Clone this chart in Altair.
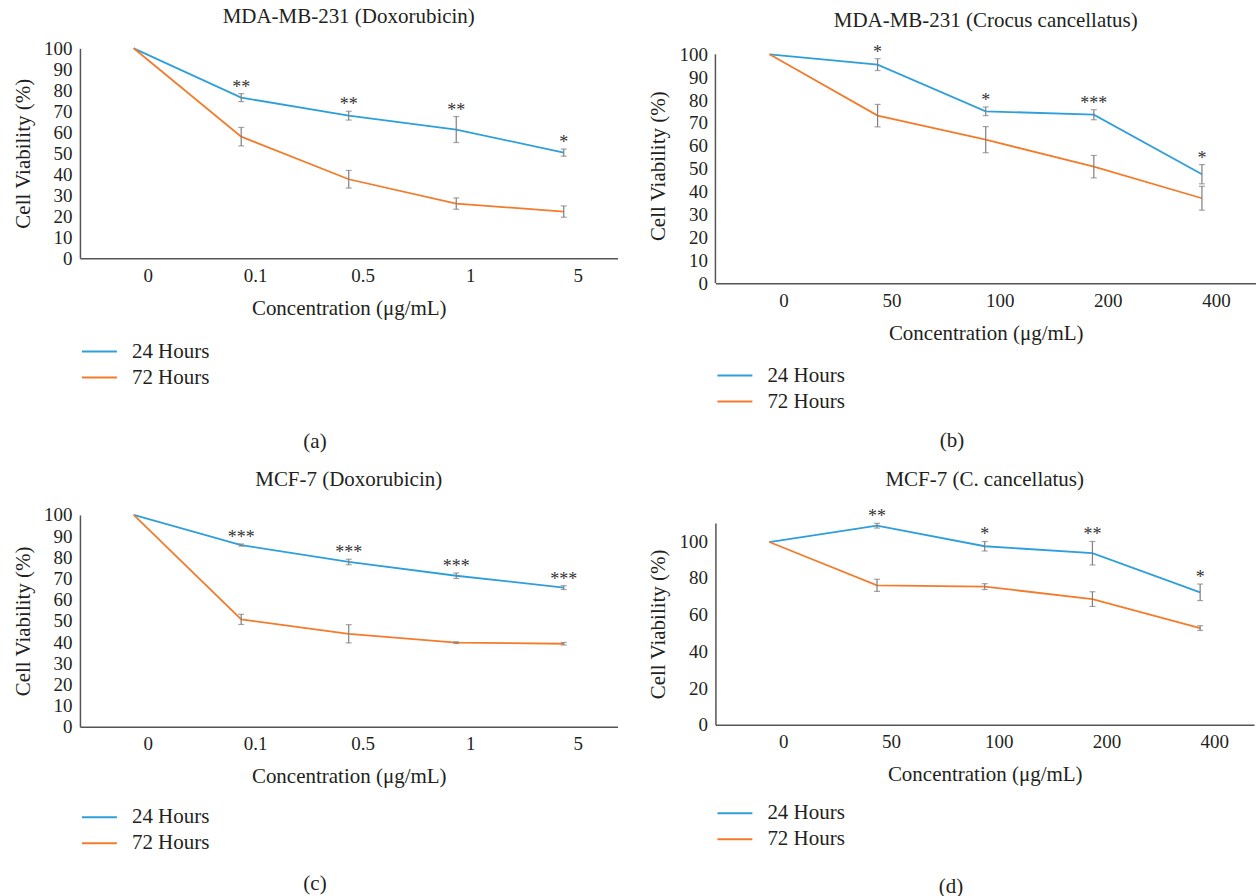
import altair as alt
import pandas as pd

# ---------------- data ----------------
cats_dox = ["0", "0.1", "0.5", "1", "5"]
cats_cc = ["0", "50", "100", "200", "400"]
series = ["24 Hours", "72 Hours"]

a_24 = [100, 76.5, 67.9, 61.3, 50.3]
a_24_err = [None, 1.9, 2.1, 6.2, 1.7]
a_72 = [100, 57.9, 37.6, 26.0, 22.2]
a_72_err = [None, 4.4, 4.2, 2.7, 2.7]
a_sig = ["", "**", "**", "**", "*"]

b_24 = [100, 95.5, 75.1, 73.6, 47.6]
b_24_err = [None, 2.6, 1.9, 2.2, 4.2]
b_72 = [100, 73.2, 62.7, 50.9, 37.1]
b_72_err = [None, 4.9, 5.7, 4.9, 5.2]
b_sig = ["", "*", "*", "***", "*"]

c_24 = [100, 85.8, 77.8, 71.3, 65.7]
c_24_err = [None, 0.5, 1.3, 1.3, 0.9]
c_72 = [100, 50.7, 43.9, 39.7, 39.2]
c_72_err = [None, 2.4, 4.3, 0.4, 0.6]
c_sig = ["", "***", "***", "***", "***"]

d_24 = [99.6, 108.5, 97.3, 93.5, 72.2]
d_24_err = [None, 1.3, 2.6, 6.4, 4.5]
d_72 = [99.6, 76.0, 75.3, 68.5, 52.7]
d_72_err = [None, 3.3, 1.6, 4.0, 1.3]
d_sig = ["", "**", "*", "**", "*"]

BLUE = "#2E9FDB"
ORANGE = "#F37B2B"
GRAY = "#7F7F7F"
AXIS = "#555555"
TXT = "#231F20"
FONT = "Liberation Serif"
BIG = 21


def make_df(cats, v24, e24, v72, e72, sig):
    rows = []
    for i, c in enumerate(cats):
        rows.append(dict(conc=c, series=series[0], v=v24[i], err=e24[i], sig=sig[i]))
    for i, c in enumerate(cats):
        rows.append(dict(conc=c, series=series[1], v=v72[i], err=e72[i], sig=""))
    df = pd.DataFrame(rows)
    df["lo"] = df["v"] - df["err"]
    df["hi"] = df["v"] + df["err"]
    return df


def panel(cats, v24, e24, v72, e72, sig, title, ymax, ystep, w, h,
          title_offset, legend_y, sub, sub_offset, scale_max=None):
    df = make_df(cats, v24, e24, v72, e72, sig)
    own_domain = scale_max is not None
    smax = scale_max if own_domain else ymax
    xaxis = alt.Axis(title="Concentration (μg/mL)", labelAngle=0, ticks=False,
                     labelOffset=14, labelPadding=8, titlePadding=12)
    yaxis = alt.Axis(title="Cell Viability (%)", values=list(range(0, ymax + 1, ystep)),
                     ticks=False, labelPadding=8, titlePadding=10, labelOverlap=False,
                     domain=not own_domain)
    x = alt.X("conc:N", sort=cats, scale=alt.Scale(type="point", padding=0.5), axis=xaxis)
    ysc = alt.Scale(domain=[0, smax], nice=False)
    color = alt.Color("series:N",
                      scale=alt.Scale(domain=series, range=[BLUE, ORANGE]),
                      legend=alt.Legend(title=None, orient="none", legendX=9, legendY=legend_y,
                                        symbolType="M-2,0H2", symbolSize=306,
                                        symbolStrokeWidth=2, labelOffset=22,
                                        rowPadding=4, direction="vertical"))
    base = alt.Chart(df)
    line = base.mark_line(strokeWidth=1.8).encode(
        x=x, y=alt.Y("v:Q", scale=ysc, axis=yaxis), color=color)
    ebase = base.transform_filter("isValid(datum.err)")
    rule = ebase.mark_rule(color=GRAY, strokeWidth=1.2).encode(
        x=x, y=alt.Y("lo:Q", scale=ysc, axis=yaxis), y2="hi:Q")
    cap_lo = ebase.mark_tick(color=GRAY, orient="horizontal", size=6, thickness=1.2).encode(
        x=x, y=alt.Y("lo:Q", scale=ysc, axis=yaxis))
    cap_hi = ebase.mark_tick(color=GRAY, orient="horizontal", size=6, thickness=1.2).encode(
        x=x, y=alt.Y("hi:Q", scale=ysc, axis=yaxis))
    stars = base.transform_filter("datum.sig != ''").mark_text(
        font=FONT, fontSize=18, color="#333333", baseline="middle", dy=-6).encode(
        x=x, y=alt.Y("hi:Q", scale=ysc, axis=yaxis), text="sig:N")
    layers = [line, rule, cap_lo, cap_hi, stars]
    if own_domain:
        # y axis line drawn only from 0 to the top tick value
        dom = alt.Chart(pd.DataFrame({"y0": [0], "y1": [ymax]})).mark_rule(
            color=AXIS, strokeWidth=1.5).encode(
            x=alt.value(0), y=alt.Y("y0:Q", scale=ysc, axis=yaxis), y2="y1:Q")
        layers.append(dom)
    layer = alt.layer(*layers).properties(
        width=w, height=h,
        title=alt.TitleParams(title, fontSize=BIG, font=FONT, fontWeight="normal",
                              color=TXT, offset=title_offset, anchor="middle"))
    return alt.vconcat(layer, title=alt.TitleParams(sub, orient="bottom", offset=sub_offset,
                                                     anchor="middle",
                                                     fontSize=BIG, font=FONT,
                                                     fontWeight="normal", color=TXT)
                       ).resolve_scale(color="independent").resolve_legend(color="independent")


pa = panel(cats_dox, a_24, a_24_err, a_72, a_72_err, a_sig, "MDA-MB-231 (Doxorubicin)",
           100, 10, 538, 210, 12, 293, "(a)", 43)
pb = panel(cats_cc, b_24, b_24_err, b_72, b_72_err, b_sig, "MDA-MB-231 (Crocus cancellatus)",
           100, 10, 541, 235, 13, 317, "(b)", 18, scale_max=102.62)
pc = panel(cats_dox, c_24, c_24_err, c_72, c_72_err, c_sig, "MCF-7 (Doxorubicin)",
           100, 10, 538, 212, 16, 292, "(c)", 19)
pd_ = panel(cats_cc, d_24, d_24_err, d_72, d_72_err, d_sig, "MCF-7 (C. cancellatus)",
            110, 20, 539, 202, 18, 280, "(d)", 26)

chart = alt.concat(pa, pb, pc, pd_, columns=2, align="none",
                   spacing={"row": 17, "column": 30}).resolve_scale(
    color="independent").resolve_legend(color="independent").properties(
    padding={"left": 12, "top": 6, "right": 0, "bottom": 0},
    background="white",
).configure_view(stroke=None).configure_axis(
    labelFont=FONT, labelFontSize=19, labelColor=TXT,
    titleFont=FONT, titleFontSize=BIG, titleFontWeight="normal", titleColor=TXT,
    domainColor=AXIS, domainWidth=1.5, grid=False,
).configure_legend(
    labelFont=FONT, labelFontSize=BIG, labelColor=TXT, padding=0,
)

chart.save("out.html", embed_options={"renderer": "svg", "actions": False})
